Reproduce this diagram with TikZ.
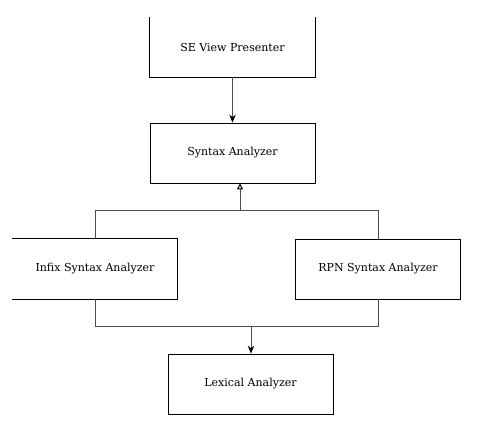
\documentclass[tikz,border=0pt]{standalone}
\usepackage{fontspec}
\setmainfont{DejaVu Serif}
\usetikzlibrary{positioning, arrows.meta}

\begin{document}
\begin{tikzpicture}[x=1pt, y=-1pt,
    box/.style = {minimum width = 165pt, minimum height = 60pt,
        inner sep = 0pt, font = \fontsize{11}{13}\selectfont},
    frame/.style = {draw, line width = 0.8pt},
    link/.style = {draw = black!70, line width = 1pt},
    uses/.style = {link, -{Stealth[length = 8pt, width = 6.5pt, black]}},
    extends/.style = {link, -{Triangle[open, length = 6pt, width = 6pt, black]}}]
    \useasboundingbox (0,0) rectangle (485,430);
    \node[box] (view) at (232.5,47) {SE View Presenter};
    \node[box, frame] (syntax) at (232.5,153) {Syntax Analyzer};
    \node[box] (infix) at (95,269) {Infix Syntax Analyzer};
    \node[box, frame] (rpn) at (378,269) {RPN Syntax Analyzer};
    \node[box, frame] (lexical) at (250.5,384) {Lexical Analyzer};
    % open sides
    \draw[line width = 0.8pt] (view.north west) -- (view.south west)
        -- (view.south east) -- (view.north east);
    \draw[line width = 0.8pt] (infix.north west) -- (infix.north east)
        -- (infix.south east) -- (infix.south west);
    \coordinate (up) at (240,211);
    \coordinate (down) at (251,326);
    \path[uses] (view) -- (syntax);
    \path[link] (infix.north) -- ++ (0,-28) -| (rpn.north);
    \path[extends] (up) -- (up |- syntax.south);
    \path[link] (infix.south) -- ++ (0,27) -| (rpn.south);
    \path[uses] (down) -- (down |- lexical.north);
\end{tikzpicture}
\end{document}
